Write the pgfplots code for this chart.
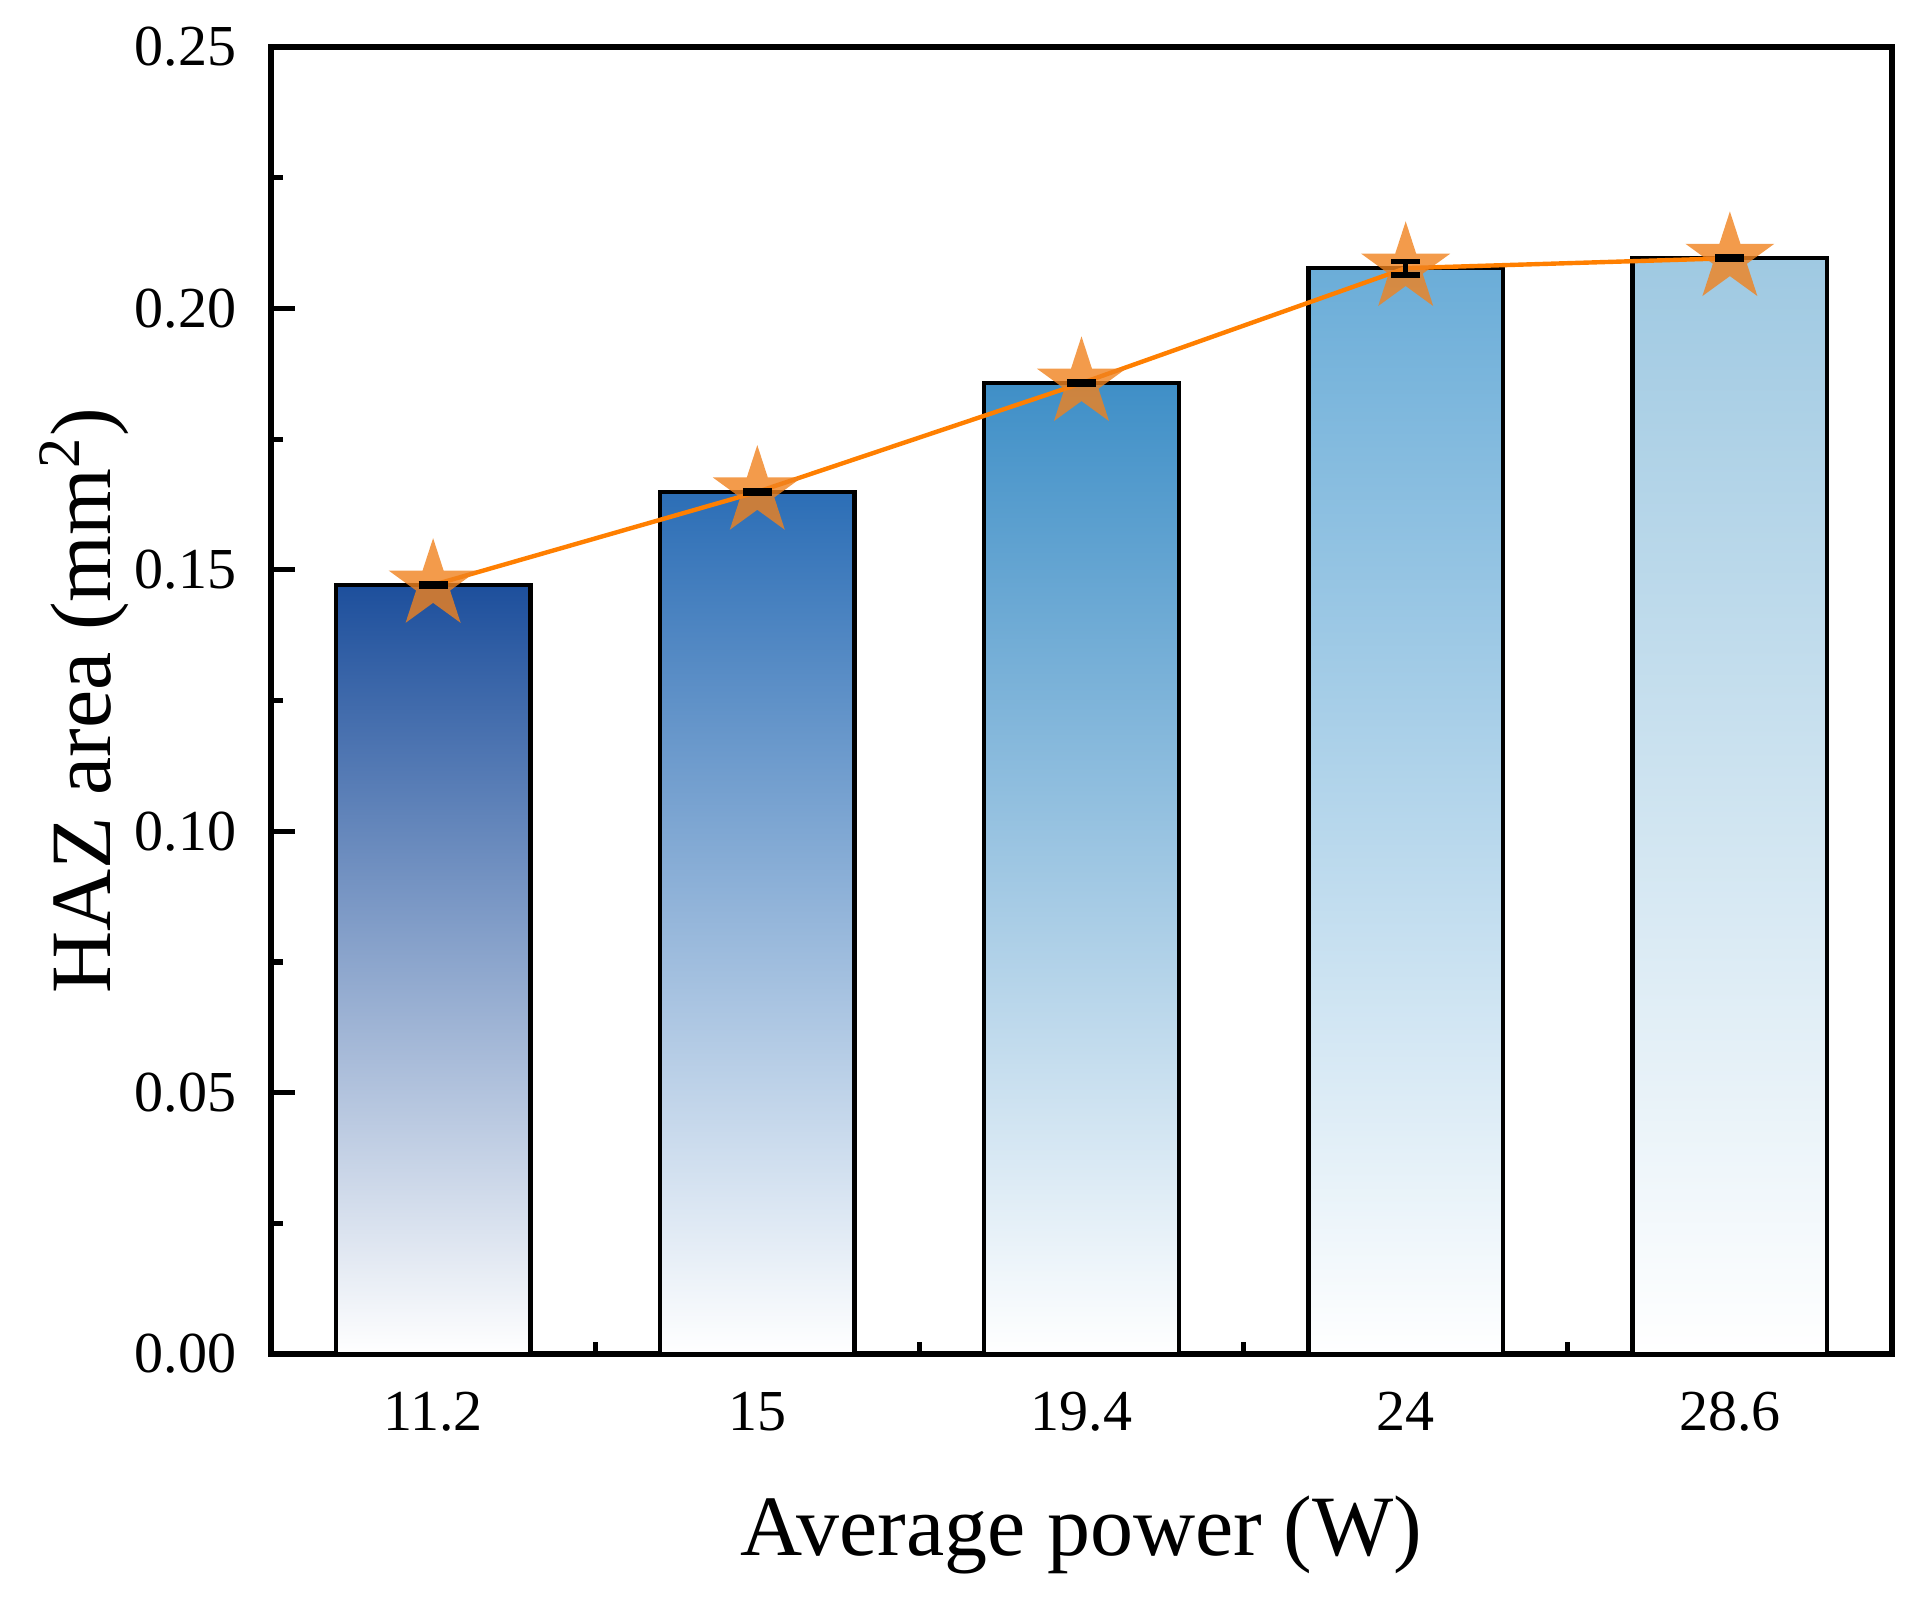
\documentclass[border=0pt]{standalone}
\usepackage{fontspec}
\setmainfont{Liberation Serif}
\usepackage{pgfplots}
\pgfplotsset{compat=1.18}

\definecolor{cA}{RGB}{29,79,156}
\definecolor{cAm}{RGB}{150,156,192}
\definecolor{cB}{RGB}{44,110,182}
\definecolor{cBm}{RGB}{180,192,220}
\definecolor{cC}{RGB}{63,143,199}
\definecolor{cCm}{RGB}{188,210,231}
\definecolor{cD}{RGB}{107,173,216}
\definecolor{cDm}{RGB}{194,217,236}
\definecolor{cE}{RGB}{159,201,226}
\definecolor{cEm}{RGB}{208,227,240}
\definecolor{lineorange}{RGB}{255,127,0}
\definecolor{starorange}{RGB}{240,130,30}

\pgfdeclareplotmark{fstar}{%
  \pgfpathmoveto{\pgfpointpolar{90}{\pgfplotmarksize}}%
  \pgfpathlineto{\pgfpointpolar{126}{0.382\pgfplotmarksize}}%
  \pgfpathlineto{\pgfpointpolar{162}{\pgfplotmarksize}}%
  \pgfpathlineto{\pgfpointpolar{198}{0.382\pgfplotmarksize}}%
  \pgfpathlineto{\pgfpointpolar{234}{\pgfplotmarksize}}%
  \pgfpathlineto{\pgfpointpolar{270}{0.382\pgfplotmarksize}}%
  \pgfpathlineto{\pgfpointpolar{306}{\pgfplotmarksize}}%
  \pgfpathlineto{\pgfpointpolar{342}{0.382\pgfplotmarksize}}%
  \pgfpathlineto{\pgfpointpolar{18}{\pgfplotmarksize}}%
  \pgfpathlineto{\pgfpointpolar{54}{0.382\pgfplotmarksize}}%
  \pgfpathclose
  \pgfusepathqfill
}

\begin{document}
\begin{tikzpicture}
\begin{axis}[
  at={(0,0)}, anchor=south west,
  scale only axis, width=405.25pt, height=326.75pt,
  xmin=-0.5, xmax=4.5, ymin=0, ymax=0.25,
  clip mode=individual,
  axis line style={line width=1.5pt},
  xtick={0,1,2,3,4}, xticklabels={11.2,15,19.4,24,28.6},
  minor xtick={0.5,1.5,2.5,3.5},
  ytick={0,0.05,0.1,0.15,0.2,0.25},
  minor ytick={0.025,0.075,0.125,0.175,0.225},
  xtick pos=bottom, ytick pos=left, tick align=inside,
  major tick length=6pt, minor tick length=3pt,
  every tick/.style={black, line width=1.3pt},
  scaled y ticks=false,
  /pgf/number format/assume math mode=true,
  tick label style={font=\fontsize{14.5}{17}\selectfont},
  yticklabel style={/pgf/number format/.cd, fixed, fixed zerofill, precision=2, /tikz/.cd, anchor=east, inner sep=0pt, xshift=-8.5pt},
  xticklabel style={anchor=base, inner sep=0pt, yshift=-19pt},
  xlabel={Average power (W)},
  ylabel={HAZ area (mm\textsuperscript{2})},
  label style={font=\fontsize{21.5}{25}\selectfont},
  xlabel style={at={(axis description cs:0.5,-0.1538)}, anchor=base, inner sep=0pt},
  ylabel style={at={(axis description cs:-0.0993,0.5)}, anchor=base, inner sep=0pt},
]
\addplot[ybar, bar width=0.6, bar shift=0pt, draw=black, line width=1.1pt, top color=cA, middle color=cAm, bottom color=white] coordinates {(0,0.1471)};
\addplot[ybar, bar width=0.6, bar shift=0pt, draw=black, line width=1.1pt, top color=cB, middle color=cBm, bottom color=white] coordinates {(1,0.1649)};
\addplot[ybar, bar width=0.6, bar shift=0pt, draw=black, line width=1.1pt, top color=cC, middle color=cCm, bottom color=white] coordinates {(2,0.1857)};
\addplot[ybar, bar width=0.6, bar shift=0pt, draw=black, line width=1.1pt, top color=cD, middle color=cDm, bottom color=white] coordinates {(3,0.2077)};
\addplot[ybar, bar width=0.6, bar shift=0pt, draw=black, line width=1.1pt, top color=cE, middle color=cEm, bottom color=white] coordinates {(4,0.2096)};

\addplot[color=lineorange, line width=1.1pt, mark=fstar, mark size=11.7pt,
  mark options={draw=none, fill=starorange, fill opacity=0.8}]
  coordinates {(0,0.1471) (1,0.1649) (2,0.1857) (3,0.2077) (4,0.2096)};

\addplot[draw=none, mark=none, forget plot,
  error bars/.cd, y dir=both, y explicit,
  error bar style={line width=1.3pt, black},
  error mark options={rotate=90, mark size=3.6pt, line width=1.3pt, black}]
  coordinates {(0,0.1471) +- (0,0.0003) (1,0.1649) +- (0,0.0003) (2,0.1857) +- (0,0.0003) (3,0.2077) +- (0,0.0013) (4,0.2096) +- (0,0.0003)};
\end{axis}
\pgfresetboundingbox
\useasboundingbox (-67.75pt,-61.25pt) rectangle (410.75pt,338.5pt);
\end{tikzpicture}
\end{document}
